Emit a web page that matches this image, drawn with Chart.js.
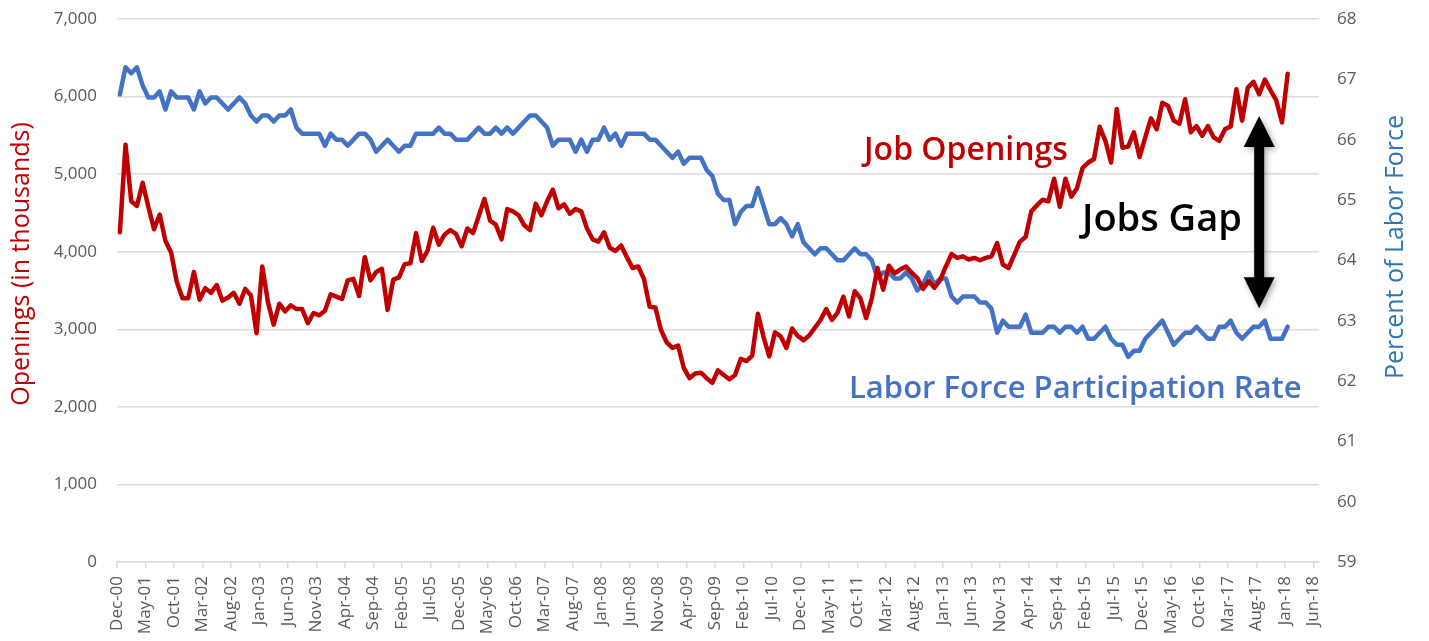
<!DOCTYPE html>
<html>
<head>
<meta charset="utf-8">
<script src="https://cdn.jsdelivr.net/npm/chart.js@4.4.1/dist/chart.umd.min.js"></script>
<style>
  html, body { margin: 0; padding: 0; background: #fff; }
</style>
</head>
<body>
<canvas id="jobsChart" width="1429" height="641"></canvas>
<script>
// Job openings (thousands), monthly Dec-00 .. Jan-18
const openings = [
  4250, 5380, 4650, 4590, 4890, 4580, 4290, 4480, 4140, 3990,
  3610, 3400, 3400, 3740, 3380, 3530, 3470, 3570, 3370, 3410,
  3470, 3330, 3520, 3440, 2950, 3810, 3350, 3060, 3330, 3230,
  3310, 3260, 3260, 3080, 3210, 3180, 3240, 3450, 3420, 3390,
  3630, 3650, 3430, 3930, 3630, 3740, 3780, 3250, 3640, 3670,
  3840, 3850, 4240, 3880, 4010, 4310, 4090, 4220, 4280, 4230,
  4070, 4300, 4240, 4460, 4680, 4400, 4350, 4160, 4550, 4520,
  4470, 4340, 4280, 4620, 4470, 4650, 4800, 4560, 4610, 4490,
  4550, 4520, 4300, 4160, 4130, 4250, 4050, 4010, 4080, 3930,
  3790, 3810, 3650, 3290, 3280, 2990, 2830, 2760, 2790, 2500,
  2370, 2430, 2440, 2370, 2310, 2470, 2410, 2355, 2410, 2620,
  2590, 2660, 3200, 2900, 2650, 2960, 2910, 2760, 3010, 2915,
  2860, 2920, 3020, 3120, 3260, 3120, 3215, 3420, 3165, 3490,
  3400, 3145, 3400, 3790, 3510, 3820, 3720, 3770, 3810, 3730,
  3660, 3520, 3620, 3535, 3635, 3810, 3970, 3920, 3940, 3900,
  3920, 3890, 3920, 3940, 4110, 3835, 3790, 3960, 4130, 4190,
  4520, 4600, 4670, 4650, 4940, 4580, 4940, 4710, 4815, 5080,
  5150, 5195, 5610, 5430, 5150, 5840, 5340, 5355, 5540, 5220,
  5475, 5720, 5580, 5920, 5880, 5690, 5650, 5965, 5540, 5620,
  5495, 5620, 5475, 5430, 5580, 5615, 6095, 5690, 6115, 6190,
  6030, 6220, 6080, 5950, 5665, 6295
];

// Labor force participation rate (%), same months
const participation = [
  66.75, 67.2, 67.1, 67.2, 66.9, 66.7, 66.7, 66.8, 66.5, 66.8,
  66.7, 66.7, 66.7, 66.5, 66.8, 66.6, 66.7, 66.7, 66.6, 66.5,
  66.6, 66.7, 66.6, 66.4, 66.3, 66.4, 66.4, 66.3, 66.4, 66.4,
  66.5, 66.2, 66.1, 66.1, 66.1, 66.1, 65.9, 66.1, 66.0, 66.0,
  65.9, 66.0, 66.1, 66.1, 66.0, 65.8, 65.9, 66.0, 65.9, 65.8,
  65.9, 65.9, 66.1, 66.1, 66.1, 66.1, 66.2, 66.1, 66.1, 66.0,
  66.0, 66.0, 66.1, 66.2, 66.1, 66.1, 66.2, 66.1, 66.2, 66.1,
  66.2, 66.3, 66.4, 66.4, 66.3, 66.2, 65.9, 66.0, 66.0, 66.0,
  65.8, 66.0, 65.8, 66.0, 66.0, 66.2, 66.0, 66.1, 65.9, 66.1,
  66.1, 66.1, 66.1, 66.0, 66.0, 65.9, 65.8, 65.7, 65.8, 65.6,
  65.7, 65.7, 65.7, 65.5, 65.4, 65.1, 65.0, 65.0, 64.6, 64.8,
  64.9, 64.9, 65.2, 64.9, 64.6, 64.6, 64.7, 64.6, 64.4, 64.6,
  64.3, 64.2, 64.1, 64.2, 64.2, 64.1, 64.0, 64.0, 64.1, 64.2,
  64.1, 64.1, 64.0, 63.7, 63.8, 63.8, 63.7, 63.7, 63.8, 63.7,
  63.5, 63.6, 63.8, 63.6, 63.7, 63.7, 63.4, 63.3, 63.4, 63.4,
  63.4, 63.3, 63.3, 63.2, 62.8, 63.0, 62.9, 62.9, 62.9, 63.1,
  62.8, 62.8, 62.8, 62.9, 62.9, 62.8, 62.9, 62.9, 62.8, 62.9,
  62.7, 62.7, 62.8, 62.9, 62.7, 62.6, 62.6, 62.4, 62.5, 62.5,
  62.7, 62.8, 62.9, 63.0, 62.8, 62.6, 62.7, 62.8, 62.8, 62.9,
  62.8, 62.7, 62.7, 62.9, 62.9, 63.0, 62.8, 62.7, 62.8, 62.9,
  62.9, 63.0, 62.7, 62.7, 62.7, 62.9
];

// x-axis labels, one every 5 months starting Dec-00
const tickLabels = [
  'Dec-00', 'May-01', 'Oct-01', 'Mar-02', 'Aug-02', 'Jan-03', 'Jun-03', 'Nov-03',
  'Apr-04', 'Sep-04', 'Feb-05', 'Jul-05', 'Dec-05', 'May-06', 'Oct-06', 'Mar-07',
  'Aug-07', 'Jan-08', 'Jun-08', 'Nov-08', 'Apr-09', 'Sep-09', 'Feb-10', 'Jul-10',
  'Dec-10', 'May-11', 'Oct-11', 'Mar-12', 'Aug-12', 'Jan-13', 'Jun-13', 'Nov-13',
  'Apr-14', 'Sep-14', 'Feb-15', 'Jul-15', 'Dec-15', 'May-16', 'Oct-16', 'Mar-17',
  'Aug-17', 'Jan-18', 'Jun-18'
];

const RED = '#c00000';
const BLUE = '#4472c4';
const GREY = '#595959';
const GRID = '#dcdcdc';

// each month sits in the middle of its slot on the axis
const toPoints = (arr) => arr.map((v, i) => ({ x: i + 0.5, y: v }));

// Text labels, axis titles and the "jobs gap" arrow
const annotations = {
    id: 'annotations',
    afterDatasetsDraw(chart) {
        const { ctx, scales } = chart;
        ctx.save();

        // double headed arrow at Aug-17
        const ax = scales.x.getPixelForValue(200.5);
        const yTop = scales.y.getPixelForValue(5750);
        const yBot = scales.y.getPixelForValue(3270);
        const head = 31, half = 15.5, shaft = 5;
        ctx.shadowColor = 'rgba(0,0,0,0.35)';
        ctx.shadowBlur = 6;
        ctx.shadowOffsetX = 2;
        ctx.shadowOffsetY = 2;
        ctx.fillStyle = '#000';
        ctx.beginPath();
        ctx.moveTo(ax, yTop);
        ctx.lineTo(ax + half, yTop + head);
        ctx.lineTo(ax + shaft, yTop + head);
        ctx.lineTo(ax + shaft, yBot - head);
        ctx.lineTo(ax + half, yBot - head);
        ctx.lineTo(ax, yBot);
        ctx.lineTo(ax - half, yBot - head);
        ctx.lineTo(ax - shaft, yBot - head);
        ctx.lineTo(ax - shaft, yTop + head);
        ctx.lineTo(ax - half, yTop + head);
        ctx.closePath();
        ctx.fill();
        ctx.shadowColor = 'transparent';

        ctx.textBaseline = 'alphabetic';
        ctx.textAlign = 'left';
        ctx.font = '600 32px "Open Sans"';
        ctx.fillStyle = RED;
        ctx.fillText('Job Openings', 864, 160);
        ctx.font = '600 31px "Open Sans"';
        ctx.fillStyle = BLUE;
        ctx.fillText('Labor Force Participation Rate', 849, 398);
        ctx.font = '600 38px "Open Sans"';
        ctx.fillStyle = '#000';
        ctx.fillText('Jobs Gap', 1082, 231);

        // axis titles
        ctx.font = '25px "Open Sans"';
        ctx.textAlign = 'center';
        ctx.textBaseline = 'middle';
        ctx.fillStyle = RED;
        ctx.translate(22, 264);
        ctx.rotate(-Math.PI / 2);
        ctx.fillText('Openings (in thousands)', 0, 0);
        ctx.setTransform(1, 0, 0, 1, 0, 0);
        ctx.fillStyle = '#2e75b6';
        ctx.translate(1396, 247);
        ctx.rotate(-Math.PI / 2);
        ctx.fillText('Percent of Labor Force', 0, 0);
        ctx.restore();
    }
};

// fixed axis boxes so the plot area lands where the original has it
const fitY = (w) => (s) => { s.width = w; s.paddingTop = 0; s.paddingBottom = 0; };

const chartJobs = {
    type: 'line',
    data: {
        datasets: [{
            label: 'Job Openings',
            data: toPoints(openings),
            yAxisID: 'y',
            borderColor: RED,
            borderWidth: 4.5,
            pointRadius: 0,
            tension: 0,
            borderJoinStyle: 'round',
            borderCapStyle: 'round'
        }, {
            label: 'Labor Force Participation Rate',
            data: toPoints(participation),
            yAxisID: 'y1',
            borderColor: BLUE,
            borderWidth: 4.5,
            pointRadius: 0,
            tension: 0,
            borderJoinStyle: 'round',
            borderCapStyle: 'round'
        }]
    },
    options: {
        responsive: false,
        animation: false,
        layout: { padding: { top: 19, left: 0, right: 0, bottom: 0 } },
        plugins: {
            legend: { display: false },
            tooltip: { enabled: false }
        },
        scales: {
            x: {
                type: 'linear',
                min: 0,
                max: 211,
                afterFit: (s) => { s.height = 79; },
                border: { display: true, color: GRID, width: 1.5 },
                grid: {
                    display: true,
                    drawOnChartArea: false,
                    drawTicks: true,
                    tickLength: 6,
                    color: GRID,
                    lineWidth: 1.5
                },
                ticks: {
                    stepSize: 5,
                    includeBounds: false,
                    autoSkip: false,
                    minRotation: 90,
                    maxRotation: 90,
                    padding: 8,
                    color: GREY,
                    font: { size: 17, family: 'Open Sans' },
                    callback: (v) => tickLabels[v / 5]
                }
            },
            y: {
                position: 'left',
                min: 0,
                max: 7000,
                afterFit: fitY(117),
                border: { display: false },
                grid: { color: GRID, lineWidth: 1.5, drawTicks: false },
                ticks: {
                    stepSize: 1000,
                    padding: 20,
                    color: GREY,
                    font: { size: 17, family: 'Open Sans' },
                    callback: (v) => v.toLocaleString('en-US')
                }
            },
            y1: {
                position: 'right',
                min: 59,
                max: 68,
                afterFit: fitY(110),
                border: { display: false },
                grid: { drawOnChartArea: false, drawTicks: false },
                ticks: {
                    stepSize: 1,
                    padding: 18,
                    color: GREY,
                    font: { size: 17, family: 'Open Sans' }
                }
            }
        }
    },
    plugins: [annotations]
};

const ctx = document.getElementById('jobsChart').getContext('2d');
const chart1 = new Chart(ctx, chartJobs);
</script>
</body>
</html>
